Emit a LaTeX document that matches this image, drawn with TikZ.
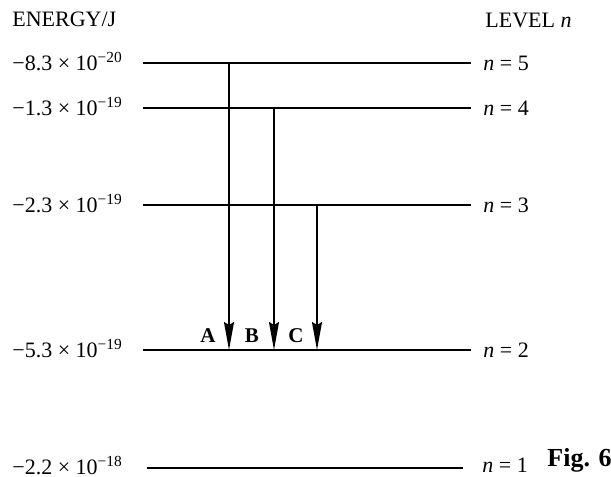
\documentclass[tikz,border=0pt]{standalone}
\usepackage{fontspec}
\setmainfont{Liberation Serif}
\usetikzlibrary{arrows.meta,positioning}

\begin{document}
\begin{tikzpicture}[
  x=0.5pt, y=-0.5pt,
  txt/.style={anchor=base west, inner sep=0pt, font=\fontsize{11}{13}\selectfont},
  levline/.style={line width=1pt},
  trans/.style={line width=0.8pt, -{Stealth[length=14pt,width=5pt,inset=1.5pt]}},
  tlabel/.style={anchor=base, inner sep=0pt, font=\fontsize{10.5}{12}\selectfont\bfseries},
]
  \useasboundingbox (0,0) rectangle (611,477);

  % Headings
  \node[txt] (ehead) at (12,26) {ENERGY/J};
  \node[txt] (lhead) at (485,27) {LEVEL \textit{n}};

  % Energy levels
  \foreach \n/\y/\e/\p in {5/63/8.3/20, 4/108/1.3/19, 3/205/2.3/19, 2/350/5.3/19} {
    \coordinate (w\n) at (143,\y);
    \coordinate (e\n) at (471,\y);
    \draw[levline] (w\n) -- (e\n);
    \node[txt] (val\n) at (12,\y+7) {−\e{} × 10\textsuperscript{−\p}};
    \node[txt] (lab\n) at (483,\y+7) {\textit{n} = \n};
  }
  \coordinate (w1) at (147,468);
  \coordinate (e1) at (463,468);
  \draw[levline] (w1) -- (e1);
  \node[txt] (val1) at (12,474) {−2.2 × 10\textsuperscript{−18}};
  \node[txt] (lab1) at (482,472) {\textit{n} = 1};
  \node[anchor=base west, inner sep=0pt, font=\fontsize{13}{15}\selectfont\bfseries]
    (fig) at (547,466) {Fig. 6};

  % Transitions
  \coordinate (sA) at (229,63);  \coordinate (tA) at (229,350);
  \coordinate (sB) at (274,108); \coordinate (tB) at (274,350);
  \coordinate (sC) at (317,205); \coordinate (tC) at (317,350);
  \draw[trans] (sA) -- (tA);
  \draw[trans] (sB) -- (tB);
  \draw[trans] (sC) -- (tC);
  \node[tlabel] (labA) at (208,342) {A};
  \node[tlabel] (labB) at (252,342) {B};
  \node[tlabel] (labC) at (296,342) {C};
\end{tikzpicture}
\end{document}
